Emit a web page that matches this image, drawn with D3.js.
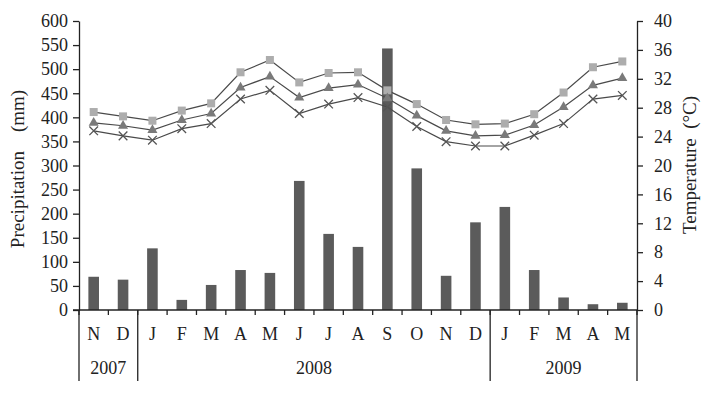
<!DOCTYPE html>
<html>
<head>
<meta charset="utf-8" />
<title>Precipitation and temperature</title>
<script src="https://d3js.org/d3.v7.min.js"></script>
<style>
  body { margin: 0; background: #fff; }
  text { font-family: "Liberation Serif", "DejaVu Serif", serif; fill: #222; }
  .axis path, .axis line { stroke: #222; stroke-width: 1.3; }
</style>
</head>
<body>
<script>
// data
var months = ['N', 'D', 'J', 'F', 'M', 'A', 'M', 'J', 'J', 'A', 'S', 'O', 'N', 'D', 'J', 'F', 'M', 'A', 'M'];
var years = [
  { label: '2007', from: 0, to: 2 },
  { label: '2008', from: 2, to: 14 },
  { label: '2009', from: 14, to: 19 }
];
var precipitation = [69, 63, 128, 21, 52, 83, 77, 268, 158, 131, 543, 294, 71, 182, 214, 83, 26, 12, 15];
var tempMax = [27.4, 26.8, 26.2, 27.6, 28.6, 32.9, 34.6, 31.5, 32.8, 32.9, 30.4, 28.5, 26.3, 25.7, 25.8, 27.1, 30.1, 33.6, 34.4];
var tempMean = [25.9, 25.5, 24.9, 26.3, 27.2, 30.8, 32.3, 29.4, 30.7, 31.2, 29.3, 26.9, 24.8, 24.1, 24.2, 25.6, 28.1, 31.1, 32.1];
var tempMin = [24.8, 24.1, 23.5, 25.1, 25.8, 29.2, 30.4, 27.2, 28.5, 29.4, 28.1, 25.4, 23.3, 22.7, 22.7, 24.2, 25.8, 29.2, 29.7];
var precipTicks = [0, 50, 100, 150, 200, 250, 300, 350, 400, 450, 500, 550, 600];
var tempTicks = [0, 4, 8, 12, 16, 20, 24, 28, 32, 36, 40];

var W = 721, H = 396;
var plotL = 79, plotR = 637, plotT = 21, plotB = 310;

var svg = d3.select('body').append('svg')
  .attr('width', W)
  .attr('height', H);

var x = d3.scaleBand()
  .domain(d3.range(months.length))
  .range([plotL, plotR])
  .padding(0);

var yP = d3.scaleLinear().domain([0, 600]).range([plotB, plotT]);
var yT = d3.scaleLinear().domain([0, 40]).range([plotB, plotT]);

var edge = i => i < months.length ? x(i) : plotR;
var mid = i => x(i) + x.bandwidth() / 2;

// bars
svg.append('g').selectAll('rect')
  .data(precipitation)
  .enter()
  .append('rect')
  .attr('x', (d, i) => mid(i) - 5.3)
  .attr('width', 10.6)
  .attr('y', d => yP(d))
  .attr('height', d => yP(0) - yP(d))
  .attr('fill', '#5b5b5b');

// left axis
svg.append('g')
  .attr('class', 'axis')
  .attr('transform', `translate(${plotL},0)`)
  .call(d3.axisLeft(yP).tickValues(precipTicks).tickSize(6).tickSizeOuter(0).tickPadding(5))
  .call(g => g.selectAll('text').style('font-size', '18px').attr('fill', '#222'));

// right axis
svg.append('g')
  .attr('class', 'axis')
  .attr('transform', `translate(${plotR},0)`)
  .call(d3.axisRight(yT).tickValues(tempTicks).tickSize(6).tickSizeOuter(0).tickPadding(11))
  .call(g => g.selectAll('text').style('font-size', '18px').attr('fill', '#222'));

// x axis baseline and ticks at band edges
svg.append('line')
  .attr('x1', plotL - 6).attr('x2', plotR)
  .attr('y1', plotB).attr('y2', plotB)
  .attr('stroke', '#222').attr('stroke-width', 1.3);

svg.append('g').selectAll('line')
  .data(d3.range(months.length + 1))
  .enter()
  .append('line')
  .attr('x1', edge)
  .attr('x2', edge)
  .attr('y1', plotB)
  .attr('y2', plotB + 5)
  .attr('stroke', '#222').attr('stroke-width', 1.3);

// month labels
svg.append('g').selectAll('text')
  .data(months)
  .enter()
  .append('text')
  .attr('x', (d, i) => mid(i))
  .attr('y', 340)
  .attr('text-anchor', 'middle')
  .style('font-size', '18px')
  .text(d => d);

// year separators and labels
var seps = [0, 2, 14, 19];
svg.append('g').selectAll('line')
  .data(seps)
  .enter()
  .append('line')
  .attr('x1', edge)
  .attr('x2', edge)
  .attr('y1', plotB)
  .attr('y2', 381)
  .attr('stroke', '#222').attr('stroke-width', 1.3);

svg.append('g').selectAll('text')
  .data(years)
  .enter()
  .append('text')
  .attr('x', d => (edge(d.from) + edge(d.to)) / 2)
  .attr('y', 374)
  .attr('text-anchor', 'middle')
  .style('font-size', '18px')
  .text(d => d.label);

// temperature lines
var line = d3.line()
  .x((d, i) => mid(i))
  .y(d => yT(d));

[tempMax, tempMean, tempMin].forEach(function (s) {
  svg.append('path')
    .datum(s)
    .attr('d', line)
    .attr('fill', 'none')
    .attr('stroke', '#4a4a4a')
    .attr('stroke-width', 1.2);
});

// markers
svg.append('g').selectAll('rect')
  .data(tempMax)
  .enter()
  .append('rect')
  .attr('x', (d, i) => mid(i) - 4)
  .attr('y', d => yT(d) - 4)
  .attr('width', 8)
  .attr('height', 8)
  .attr('fill', '#adadad');

svg.append('g').selectAll('path')
  .data(tempMean)
  .enter()
  .append('path')
  .attr('d', d3.symbol().type(d3.symbolTriangle).size(44))
  .attr('transform', (d, i) => `translate(${mid(i)},${yT(d)})`)
  .attr('fill', '#7a7a7a');

svg.append('g').selectAll('path')
  .data(tempMin)
  .enter()
  .append('path')
  .attr('d', d3.symbol().type(d3.symbolX).size(50))
  .attr('transform', (d, i) => `translate(${mid(i)},${yT(d)})`)
  .attr('fill', 'none')
  .attr('stroke', '#555')
  .attr('stroke-width', 1.3);

// axis titles
svg.append('text')
  .attr('transform', `translate(24,169) rotate(-90)`)
  .attr('text-anchor', 'middle')
  .style('font-size', '19px')
  .style('white-space', 'pre')
  .text('Precipitation    (mm)');

svg.append('text')
  .attr('transform', `translate(696,165) rotate(-90)`)
  .attr('text-anchor', 'middle')
  .style('font-size', '19px')
  .style('white-space', 'pre')
  .text('Temperature  (\u00B0C)');
</script>
</body>
</html>
